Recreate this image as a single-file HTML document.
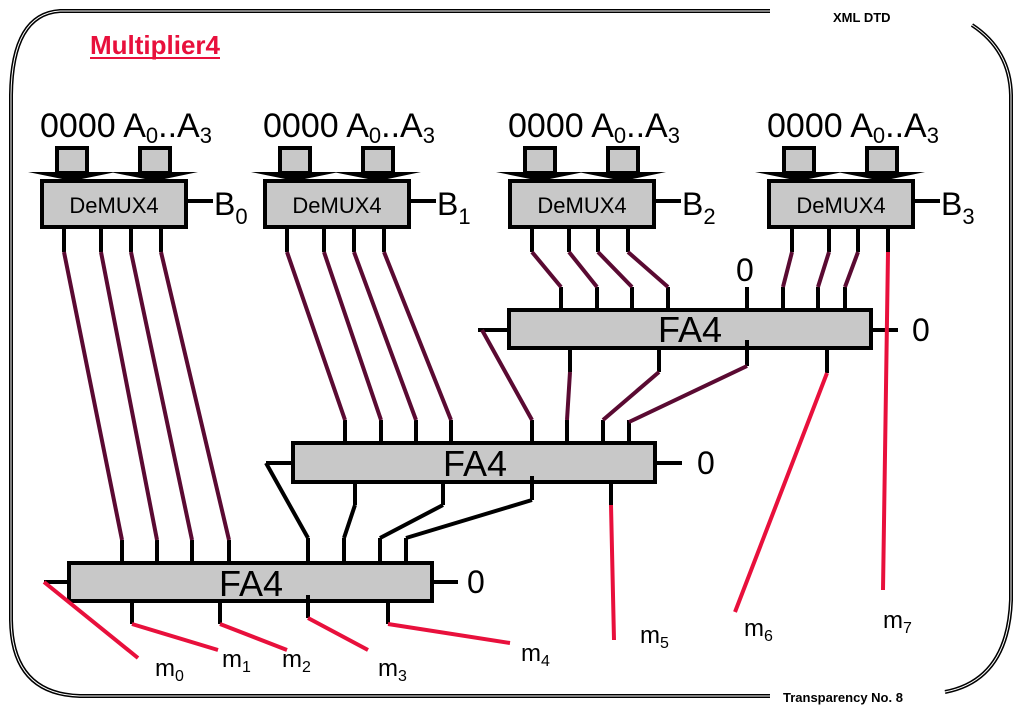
<!DOCTYPE html>
<html><head><meta charset="utf-8"><style>
html,body{margin:0;padding:0;background:#fff;}
svg{display:block;}
text{font-family:"Liberation Sans",sans-serif;}
</style></head><body>
<svg width="1023" height="708" viewBox="0 0 1023 708" xmlns="http://www.w3.org/2000/svg">
<g fill="none" stroke="#000" stroke-width="4">
<path d="M770,11 L60,11 Q12,14 11,95 L11,620 Q12,694 80,696 L770,696"/>
<path d="M972,25 Q1010,50 1011,95 L1011,600 Q1008,680 945,692"/>
</g>
<g fill="none" stroke="#fff" stroke-width="1">
<path d="M770,11 L60,11 Q12,14 11,95 L11,620 Q12,694 80,696 L770,696"/>
<path d="M972,25 Q1010,50 1011,95 L1011,600 Q1008,680 945,692"/>
</g>
<text x="833" y="22" font-size="13" font-weight="bold">XML DTD</text>
<text x="783" y="702" font-size="13" font-weight="bold">Transparency No. 8</text>
<text x="90" y="54" font-size="26" font-weight="bold" fill="#e8103c" textLength="130" lengthAdjust="spacingAndGlyphs">Multiplier4</text>
<line x1="90" y1="58" x2="220" y2="58" stroke="#e8103c" stroke-width="2"/>

<g>
<text x="40" y="137" font-size="34">0000 A<tspan font-size="22" dy="6">0</tspan><tspan dy="-6">..A</tspan><tspan font-size="22" dy="6">3</tspan></text>
<g fill="#c8c8c8" stroke="#000" stroke-width="4">
<rect x="57" y="148" width="30" height="25"/>
<rect x="140" y="148" width="30" height="25"/>
</g>
<path d="M28,172 L116,172 L72,181 Z M110,172 L198,172 L155,181 Z" fill="#000"/>
<rect x="42" y="181" width="144" height="46" fill="#c8c8c8" stroke="#000" stroke-width="4"/>
<text x="114" y="213" font-size="22" text-anchor="middle">DeMUX4</text>
<line x1="186" y1="201" x2="213" y2="201" stroke="#000" stroke-width="4"/>
<text x="214" y="215" font-size="32">B<tspan font-size="22" dy="9">0</tspan></text>
</g>
<g transform="translate(223 0)">
<text x="40" y="137" font-size="34">0000 A<tspan font-size="22" dy="6">0</tspan><tspan dy="-6">..A</tspan><tspan font-size="22" dy="6">3</tspan></text>
<g fill="#c8c8c8" stroke="#000" stroke-width="4">
<rect x="57" y="148" width="30" height="25"/>
<rect x="140" y="148" width="30" height="25"/>
</g>
<path d="M28,172 L116,172 L72,181 Z M110,172 L198,172 L155,181 Z" fill="#000"/>
<rect x="42" y="181" width="144" height="46" fill="#c8c8c8" stroke="#000" stroke-width="4"/>
<text x="114" y="213" font-size="22" text-anchor="middle">DeMUX4</text>
<line x1="186" y1="201" x2="213" y2="201" stroke="#000" stroke-width="4"/>
<text x="214" y="215" font-size="32">B<tspan font-size="22" dy="9">1</tspan></text>
</g>
<g transform="translate(468 0)">
<text x="40" y="137" font-size="34">0000 A<tspan font-size="22" dy="6">0</tspan><tspan dy="-6">..A</tspan><tspan font-size="22" dy="6">3</tspan></text>
<g fill="#c8c8c8" stroke="#000" stroke-width="4">
<rect x="57" y="148" width="30" height="25"/>
<rect x="140" y="148" width="30" height="25"/>
</g>
<path d="M28,172 L116,172 L72,181 Z M110,172 L198,172 L155,181 Z" fill="#000"/>
<rect x="42" y="181" width="144" height="46" fill="#c8c8c8" stroke="#000" stroke-width="4"/>
<text x="114" y="213" font-size="22" text-anchor="middle">DeMUX4</text>
<line x1="186" y1="201" x2="213" y2="201" stroke="#000" stroke-width="4"/>
<text x="214" y="215" font-size="32">B<tspan font-size="22" dy="9">2</tspan></text>
</g>
<g transform="translate(727 0)">
<text x="40" y="137" font-size="34">0000 A<tspan font-size="22" dy="6">0</tspan><tspan dy="-6">..A</tspan><tspan font-size="22" dy="6">3</tspan></text>
<g fill="#c8c8c8" stroke="#000" stroke-width="4">
<rect x="57" y="148" width="30" height="25"/>
<rect x="140" y="148" width="30" height="25"/>
</g>
<path d="M28,172 L116,172 L72,181 Z M110,172 L198,172 L155,181 Z" fill="#000"/>
<rect x="42" y="181" width="144" height="46" fill="#c8c8c8" stroke="#000" stroke-width="4"/>
<text x="114" y="213" font-size="22" text-anchor="middle">DeMUX4</text>
<line x1="186" y1="201" x2="213" y2="201" stroke="#000" stroke-width="4"/>
<text x="214" y="215" font-size="32">B<tspan font-size="22" dy="9">3</tspan></text>
</g>

<g stroke="#000" stroke-width="4" fill="none">
<path d="M64,228V252 M101,228V252 M131,228V252 M161,228V252
M287,228V252 M324,228V252 M354,228V252 M384,228V252
M532,228V252 M569,228V252 M598,228V252 M628,228V252
M792,228V252 M829,228V252 M858,228V252 M888,228V252"/>
<rect x="509" y="310" width="362" height="38" fill="#c8c8c8"/>
<path d="M561,287V310 M597,287V310 M632,287V310 M668,287V310 M747,287V310 M783,287V310 M818,287V310 M845,287V310"/>
<path d="M871,330H898 M478,330H509 M570,348V372 M659,348V372 M747,340V366 M827,348V373"/>
<rect x="293" y="443" width="362" height="39" fill="#c8c8c8"/>
<path d="M345,420V443 M381,420V443 M416,420V443 M451,420V443 M532,420V443 M567,420V443 M603,420V443 M629,420V443"/>
<path d="M655,463H682 M266,463H293 M355,482V505 M443,482V505 M532,476V500 M611,482V505"/>
<path d="M266,463L308,538 M355,505L344,538 M443,505L380,538 M532,500L406,538"/>
<rect x="69" y="563" width="363" height="38" fill="#c8c8c8"/>
<path d="M122,540V563 M157,540V563 M192,540V563 M229,540V563 M308,538V563 M344,538V563 M380,538V563 M406,538V563"/>
<path d="M432,582H458 M44,582H69 M132,601V624 M220,601V624 M308,595V618 M388,601V624"/>
</g>
<g font-size="36" text-anchor="middle">
<text x="690" y="342">FA4</text>
<text x="475" y="476">FA4</text>
<text x="251" y="596">FA4</text>
</g>
<g stroke="#5a0a32" stroke-width="4" fill="none">
<path d="M64,252L122,540 M101,252L157,540 M131,252L192,540 M161,252L229,540"/>
<path d="M287,252L345,420 M324,252L381,420 M354,252L416,420 M384,252L451,420"/>
<path d="M532,252L561,287 M569,252L597,287 M598,252L632,287 M628,252L668,287"/>
<path d="M792,252L783,287 M829,252L818,287 M858,252L845,287"/>
<path d="M482,330L532,420 M570,372L567,420 M659,372L603,420 M747,366L629,422"/>
</g>
<g stroke="#e8103c" stroke-width="4" fill="none">
<path d="M888,252L883,590 M827,373L735,612 M611,505L614,640"/>
<path d="M44,582L138,658 M132,624L218,650 M220,624L287,650 M308,618L368,650 M388,624L510,643"/>
</g>
<g font-size="32">
<text x="736" y="281">0</text>
<text x="912" y="341">0</text>
<text x="697" y="474">0</text>
<text x="467" y="593">0</text>
</g>
<g font-size="24">
<text x="155" y="676">m<tspan font-size="16" dy="5">0</tspan></text>
<text x="222" y="667">m<tspan font-size="16" dy="5">1</tspan></text>
<text x="282" y="667">m<tspan font-size="16" dy="5">2</tspan></text>
<text x="378" y="676">m<tspan font-size="16" dy="5">3</tspan></text>
<text x="521" y="661">m<tspan font-size="16" dy="5">4</tspan></text>
<text x="640" y="643">m<tspan font-size="16" dy="5">5</tspan></text>
<text x="744" y="636">m<tspan font-size="16" dy="5">6</tspan></text>
<text x="883" y="628">m<tspan font-size="16" dy="5">7</tspan></text>
</g>
</svg>
</body></html>
